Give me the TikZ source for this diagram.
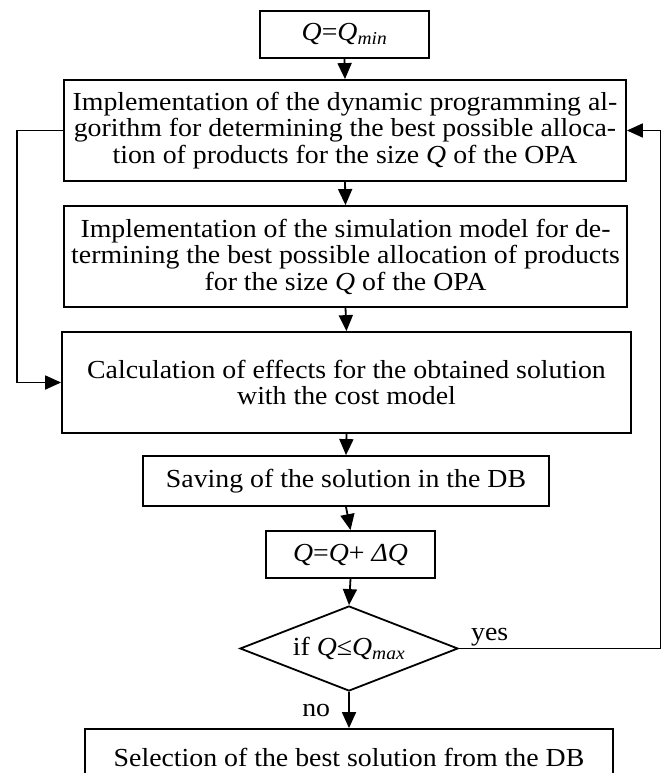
\documentclass[tikz,border=0pt]{standalone}
\usepackage{fontspec}
\setmainfont{Liberation Serif}[FakeStretch=1.07]
\usetikzlibrary{arrows.meta,shapes.geometric}
\newcommand\boxfont{\fontsize{26}{26.5}\selectfont}
\begin{document}
\begin{tikzpicture}[x=1pt,y=-1pt,
  box/.style={draw, line width=1.8pt, rectangle, inner sep=0pt, align=center, font=\boxfont},
  decision/.style={draw, line width=1.8pt, diamond, aspect=2.5, inner sep=0pt, font=\boxfont},
  conn/.style={line width=1.8pt, -{Triangle[length=16pt,width=14pt]}},
  lbl/.style={inner sep=0pt, font=\boxfont}]
\useasboundingbox (0,0) rectangle (662,773);
\clip (0,0) rectangle (662,773);

\node[box, minimum width=169pt, minimum height=47pt] (b0) at (344.5,34.5)
  {\textit{Q}=\textit{Q}\textsubscript{\textit{min}}};
\node[box, minimum width=562pt, minimum height=101pt] (b1) at (345,130.5)
  {Implementation of the dynamic programming al-\\gorithm for determining the best possible alloca-\\tion of products for the size \textit{Q} of the OPA};
\node[box, minimum width=563pt, minimum height=101pt] (b2) at (345.5,256.5)
  {Implementation of the simulation model for de-\\termining the best possible allocation of products\\for the size \textit{Q} of the OPA};
\node[box, minimum width=569pt, minimum height=101pt] (b3) at (346.5,382.5)
  {Calculation of effects for the obtained solution\\with the cost model};
\node[box, minimum width=406pt, minimum height=50pt] (b4) at (346,481)
  {Saving of the solution in the DB};
\node[box, minimum width=169pt, minimum height=47pt] (b5) at (350.5,554.5)
  {\textit{Q}=\textit{Q}+ \textit{Δ}\textit{Q}};
\node[decision, minimum width=218pt, minimum height=85pt] (dia) at (349,648.5)
  {if \textit{Q}≤\textit{Q}\textsubscript{\textit{max}}};
\node[box, minimum width=528pt, minimum height=56pt] (b6) at (349,757)
  {Selection of the best solution from the DB};

\draw[conn] (b0.south) -- (b1.north);
\draw[conn] (b1.south) -- (b2.north);
\draw[conn] (b2.south) -- (b3.north);
\draw[conn] (b3.south) -- (b4.north);
\draw[conn] (b4.south) -- (b5.north);
\draw[conn] (b5.south) -- (dia.north);
\draw[conn] (dia.south) -- node[lbl, anchor=east, xshift=-18pt] (no) {no} (b6.north);

\node[lbl, anchor=base west] (yes) at ([xshift=12pt,yshift=8.5pt]dia.east) {yes};

\coordinate (rc) at (660.5,648.5);
\coordinate (lc) at (17,130.5);
\draw[conn] (dia.east) -- (rc) |- (b1.east);
\draw[conn] (b1.west) -- (lc) |- (b3.west);
\end{tikzpicture}
\end{document}
